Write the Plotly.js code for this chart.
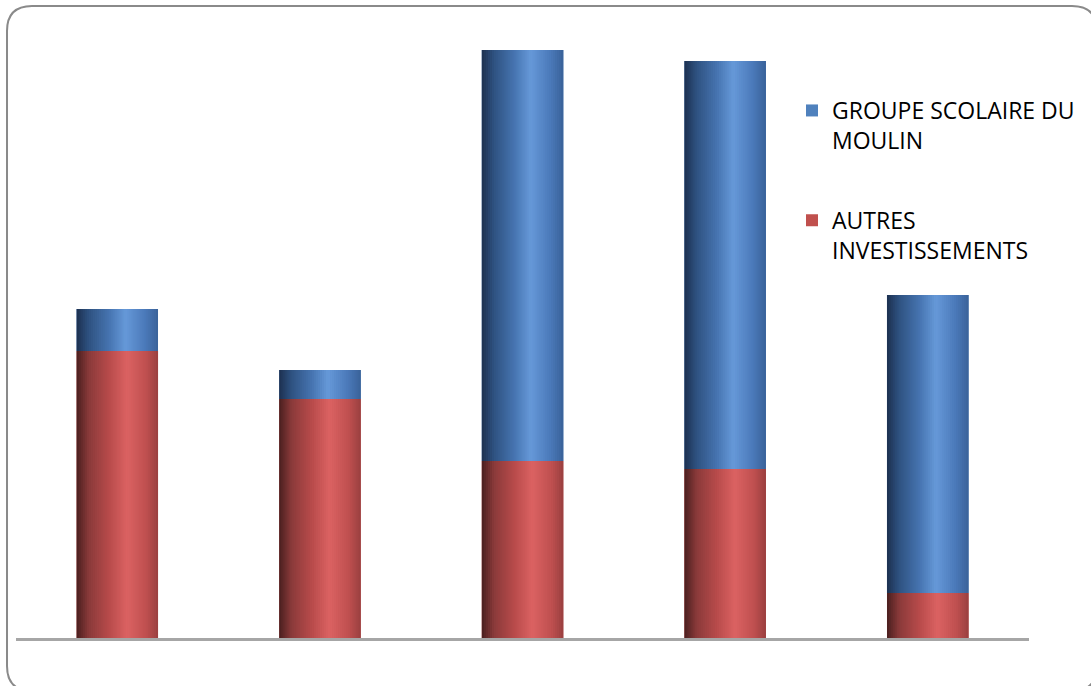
<!DOCTYPE html>
<html>
<head>
<meta charset="utf-8">
<script src="https://cdn.plot.ly/plotly-3.0.1.min.js"></script>
<style>
  html, body { margin: 0; padding: 0; background: #ffffff; overflow: hidden; }
  #chart { width: 1091px; height: 686px; }
</style>
</head>
<body>
<div id="chart"></div>
<script>
// ---- data ----
const categories = ['1', '2', '3', '4', '5'];
const seriesNames = ['GROUPE SCOLAIRE DU<br>MOULIN', 'AUTRES<br>INVESTISSEMENTS'];
const autresInvestissements = [287, 239, 177, 169, 45];
const groupeScolaire = [42, 29, 411, 408, 298];

// ---- style ----
const baseBlue = '#4f81bd';
const baseRed = '#c0504d';
const blueStops = [[0, [28, 48, 80]], [0.15, [47, 82, 129]], [0.4, [70, 116, 176]], [0.6, [102, 153, 217]], [0.85, [74, 120, 184]], [1, [58, 98, 153]]];
const redStops = [[0, [74, 31, 31]], [0.15, [138, 58, 58]], [0.4, [184, 75, 75]], [0.62, [219, 98, 98]], [0.85, [192, 80, 80]], [1, [154, 64, 64]]];

function gradColor(stops, t) {
  for (let i = 0; i < stops.length - 1; i++) {
    const [t0, c0] = stops[i], [t1, c1] = stops[i + 1];
    if (t >= t0 && t <= t1) {
      const f = (t - t0) / (t1 - t0);
      const c = c0.map((v, k) => Math.round(v + (c1[k] - v) * f));
      return 'rgb(' + c.join(',') + ')';
    }
  }
  const c = stops[stops.length - 1][1];
  return 'rgb(' + c.join(',') + ')';
}

const barW = 0.402;
const N = 40;
const s = barW / N;

const traces = [];
// solid base bars (legend entries)
traces.push({
  type: 'bar', x: categories, y: groupeScolaire, base: autresInvestissements,
  name: seriesNames[0], legendgroup: 'g1', width: barW,
  marker: { color: baseBlue, line: { width: 0 } }, hoverinfo: 'skip'
});
traces.push({
  type: 'bar', x: categories, y: autresInvestissements,
  name: seriesNames[1], legendgroup: 'g2', width: barW,
  marker: { color: baseRed, line: { width: 0 } }, hoverinfo: 'skip'
});
// gradient slices
for (let i = 0; i < N; i++) {
  const off = -barW / 2 + i * s;
  const w = Math.min(2 * s, barW / 2 - off);
  const t = (i + 0.5) / N;
  traces.push({
    type: 'bar', x: categories, y: autresInvestissements,
    offset: off, width: w, showlegend: false, legendgroup: 'g2',
    marker: { color: gradColor(redStops, t), line: { width: 0 } }, hoverinfo: 'skip'
  });
  traces.push({
    type: 'bar', x: categories, y: groupeScolaire, base: autresInvestissements,
    offset: off, width: w, showlegend: false, legendgroup: 'g1',
    marker: { color: gradColor(blueStops, t), line: { width: 0 } }, hoverinfo: 'skip'
  });
}

// frame geometry (pixels)
const L = 16, R = 61, T = 40, B = 48;
const W = 1091 - L - R, H = 686 - T - B;
const px = v => (v - L) / W;
const py = v => (686 - B - v) / H;
const fx0 = 7, fy0 = 6, fx1 = 1098, fy1 = 691, rad = 25;
const framePath =
  'M ' + px(fx0 + rad) + ' ' + py(fy0) +
  ' L ' + px(fx1 - rad) + ' ' + py(fy0) +
  ' Q ' + px(fx1) + ' ' + py(fy0) + ' ' + px(fx1) + ' ' + py(fy0 + rad) +
  ' L ' + px(fx1) + ' ' + py(fy1 - rad) +
  ' Q ' + px(fx1) + ' ' + py(fy1) + ' ' + px(fx1 - rad) + ' ' + py(fy1) +
  ' L ' + px(fx0 + rad) + ' ' + py(fy1) +
  ' Q ' + px(fx0) + ' ' + py(fy1) + ' ' + px(fx0) + ' ' + py(fy1 - rad) +
  ' L ' + px(fx0) + ' ' + py(fy0 + rad) +
  ' Q ' + px(fx0) + ' ' + py(fy0) + ' ' + px(fx0 + rad) + ' ' + py(fy0) + ' Z';

const layout = {
  width: 1091, height: 686,
  margin: { l: L, r: R, t: T, b: B, pad: 0 },
  paper_bgcolor: '#ffffff', plot_bgcolor: '#ffffff',
  barmode: 'overlay',
  font: { family: 'Open Sans, sans-serif', size: 23, color: '#000000' },
  xaxis: {
    type: 'category', range: [-0.5, 4.5], showticklabels: false, ticks: '',
    showgrid: false, zeroline: false, showline: true, linecolor: '#a6a6a6', linewidth: 2.5, fixedrange: true
  },
  yaxis: {
    range: [0, H], visible: false, showgrid: false, zeroline: false, fixedrange: true
  },
  showlegend: true,
  legend: {
    x: px(792), y: py(89), xanchor: 'left', yanchor: 'top',
    traceorder: 'grouped', valign: 'top', tracegroupgap: 47,
    bgcolor: 'rgba(0,0,0,0)', font: { family: 'Open Sans, sans-serif', size: 23, color: '#000000' }
  },
  shapes: [{
    type: 'path', xref: 'paper', yref: 'paper', path: framePath,
    line: { color: '#8a8a8a', width: 2 }, fillcolor: 'rgba(0,0,0,0)', layer: 'above'
  }]
};

Plotly.newPlot('chart', traces, layout, { staticPlot: true, displayModeBar: false });
</script>
</body>
</html>
